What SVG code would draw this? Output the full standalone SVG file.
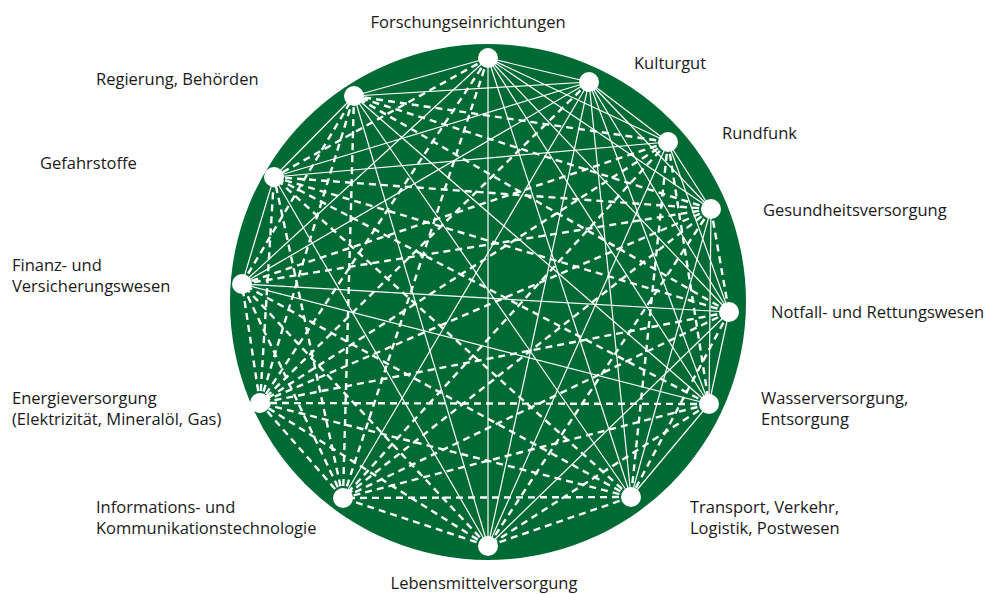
<svg xmlns="http://www.w3.org/2000/svg" width="987" height="594" viewBox="0 0 987 594">
<style>
.bg{fill:#006a34}
.s{stroke:#ffffff;stroke-width:1.2;fill:none}
.d{stroke:#ffffff;stroke-width:2.4;stroke-dasharray:7 5;fill:none}
.n{fill:#ffffff}
.t{font-family:"Open Sans","Noto Sans","Liberation Sans",sans-serif;font-size:16.5px;fill:#1a1a1a}
</style>
<rect width="987" height="594" fill="#ffffff"/>
<circle class="bg" cx="488" cy="302" r="258"/>
<g id="connectors">
<line class="s" x1="488" y1="58" x2="589" y2="82"/>
<line class="s" x1="488" y1="58" x2="668" y2="142"/>
<line class="s" x1="488" y1="58" x2="711" y2="209"/>
<line class="s" x1="488" y1="58" x2="729" y2="312"/>
<line class="s" x1="488" y1="58" x2="709" y2="404"/>
<line class="s" x1="488" y1="58" x2="631" y2="497"/>
<line class="s" x1="488" y1="58" x2="488" y2="546"/>
<line class="s" x1="488" y1="58" x2="242" y2="284"/>
<line class="s" x1="488" y1="58" x2="354" y2="96"/>
<line class="s" x1="589" y1="82" x2="668" y2="142"/>
<line class="s" x1="589" y1="82" x2="711" y2="209"/>
<line class="s" x1="589" y1="82" x2="729" y2="312"/>
<line class="s" x1="589" y1="82" x2="709" y2="404"/>
<line class="s" x1="589" y1="82" x2="631" y2="497"/>
<line class="s" x1="589" y1="82" x2="488" y2="546"/>
<line class="s" x1="589" y1="82" x2="343" y2="498"/>
<line class="s" x1="589" y1="82" x2="242" y2="284"/>
<line class="s" x1="589" y1="82" x2="274" y2="177"/>
<line class="s" x1="589" y1="82" x2="354" y2="96"/>
<line class="s" x1="668" y1="142" x2="711" y2="209"/>
<line class="s" x1="668" y1="142" x2="729" y2="312"/>
<line class="s" x1="668" y1="142" x2="488" y2="546"/>
<line class="s" x1="668" y1="142" x2="274" y2="177"/>
<line class="s" x1="711" y1="209" x2="709" y2="404"/>
<line class="s" x1="711" y1="209" x2="631" y2="497"/>
<line class="s" x1="729" y1="312" x2="709" y2="404"/>
<line class="s" x1="729" y1="312" x2="488" y2="546"/>
<line class="s" x1="729" y1="312" x2="242" y2="284"/>
<line class="s" x1="709" y1="404" x2="631" y2="497"/>
<line class="s" x1="709" y1="404" x2="242" y2="284"/>
<line class="s" x1="709" y1="404" x2="354" y2="96"/>
<line class="s" x1="631" y1="497" x2="354" y2="96"/>
<line class="s" x1="488" y1="546" x2="274" y2="177"/>
<line class="s" x1="488" y1="546" x2="354" y2="96"/>
<line class="s" x1="242" y1="284" x2="274" y2="177"/>
<line class="s" x1="274" y1="177" x2="354" y2="96"/>
<line class="d" x1="488" y1="58" x2="343" y2="498"/>
<line class="d" x1="488" y1="58" x2="260" y2="403"/>
<line class="d" x1="488" y1="58" x2="274" y2="177"/>
<line class="d" x1="589" y1="82" x2="260" y2="403"/>
<line class="d" x1="668" y1="142" x2="709" y2="404"/>
<line class="d" x1="668" y1="142" x2="631" y2="497"/>
<line class="d" x1="668" y1="142" x2="343" y2="498"/>
<line class="d" x1="668" y1="142" x2="260" y2="403"/>
<line class="d" x1="668" y1="142" x2="242" y2="284"/>
<line class="d" x1="668" y1="142" x2="354" y2="96"/>
<line class="d" x1="711" y1="209" x2="729" y2="312"/>
<line class="d" x1="711" y1="209" x2="488" y2="546"/>
<line class="d" x1="711" y1="209" x2="343" y2="498"/>
<line class="d" x1="711" y1="209" x2="260" y2="403"/>
<line class="d" x1="711" y1="209" x2="242" y2="284"/>
<line class="d" x1="711" y1="209" x2="274" y2="177"/>
<line class="d" x1="711" y1="209" x2="354" y2="96"/>
<line class="d" x1="729" y1="312" x2="631" y2="497"/>
<line class="d" x1="729" y1="312" x2="343" y2="498"/>
<line class="d" x1="729" y1="312" x2="260" y2="403"/>
<line class="d" x1="729" y1="312" x2="274" y2="177"/>
<line class="d" x1="729" y1="312" x2="354" y2="96"/>
<line class="d" x1="709" y1="404" x2="488" y2="546"/>
<line class="d" x1="709" y1="404" x2="343" y2="498"/>
<line class="d" x1="709" y1="404" x2="260" y2="403"/>
<line class="d" x1="709" y1="404" x2="274" y2="177"/>
<line class="d" x1="631" y1="497" x2="488" y2="546"/>
<line class="d" x1="631" y1="497" x2="343" y2="498"/>
<line class="d" x1="631" y1="497" x2="260" y2="403"/>
<line class="d" x1="631" y1="497" x2="242" y2="284"/>
<line class="d" x1="631" y1="497" x2="274" y2="177"/>
<line class="d" x1="488" y1="546" x2="343" y2="498"/>
<line class="d" x1="488" y1="546" x2="260" y2="403"/>
<line class="d" x1="488" y1="546" x2="242" y2="284"/>
<line class="d" x1="343" y1="498" x2="260" y2="403"/>
<line class="d" x1="343" y1="498" x2="242" y2="284"/>
<line class="d" x1="343" y1="498" x2="274" y2="177"/>
<line class="d" x1="343" y1="498" x2="354" y2="96"/>
<line class="d" x1="260" y1="403" x2="242" y2="284"/>
<line class="d" x1="260" y1="403" x2="274" y2="177"/>
<line class="d" x1="260" y1="403" x2="354" y2="96"/>
<line class="d" x1="242" y1="284" x2="354" y2="96"/>
</g>
<g id="n1"><circle class="n" cx="488" cy="58" r="10"/><text class="t" x="468" y="28" text-anchor="middle">Forschungseinrichtungen</text></g>
<g id="n2"><circle class="n" cx="589" cy="82" r="10"/><text class="t" x="634" y="69">Kulturgut</text></g>
<g id="n3"><circle class="n" cx="668" cy="142" r="10"/><text class="t" x="722" y="139">Rundfunk</text></g>
<g id="n4"><circle class="n" cx="711" cy="209" r="10"/><text class="t" x="763" y="216">Gesundheitsversorgung</text></g>
<g id="n5"><circle class="n" cx="729" cy="312" r="10"/><text class="t" x="771" y="318">Notfall- und Rettungswesen</text></g>
<g id="n6"><circle class="n" cx="709" cy="404" r="10"/><text class="t" x="761" y="404">Wasserversorgung,</text><text class="t" x="761" y="425">Entsorgung</text></g>
<g id="n7"><circle class="n" cx="631" cy="497" r="10"/><text class="t" x="690" y="513">Transport, Verkehr,</text><text class="t" x="690" y="534">Logistik, Postwesen</text></g>
<g id="n8"><circle class="n" cx="488" cy="546" r="10"/><text class="t" x="484" y="589" text-anchor="middle">Lebensmittelversorgung</text></g>
<g id="n9"><circle class="n" cx="343" cy="498" r="10"/><text class="t" x="96" y="513">Informations- und</text><text class="t" x="96" y="534">Kommunikationstechnologie</text></g>
<g id="n10"><circle class="n" cx="260" cy="403" r="10"/><text class="t" x="12" y="404">Energieversorgung</text><text class="t" x="12" y="425">(Elektrizität, Mineralöl, Gas)</text></g>
<g id="n11"><circle class="n" cx="242" cy="284" r="10"/><text class="t" x="12" y="271">Finanz- und</text><text class="t" x="12" y="292">Versicherungswesen</text></g>
<g id="n12"><circle class="n" cx="274" cy="177" r="10"/><text class="t" x="40" y="169">Gefahrstoffe</text></g>
<g id="n13"><circle class="n" cx="354" cy="96" r="10"/><text class="t" x="96" y="85">Regierung, Behörden</text></g>
</svg>
